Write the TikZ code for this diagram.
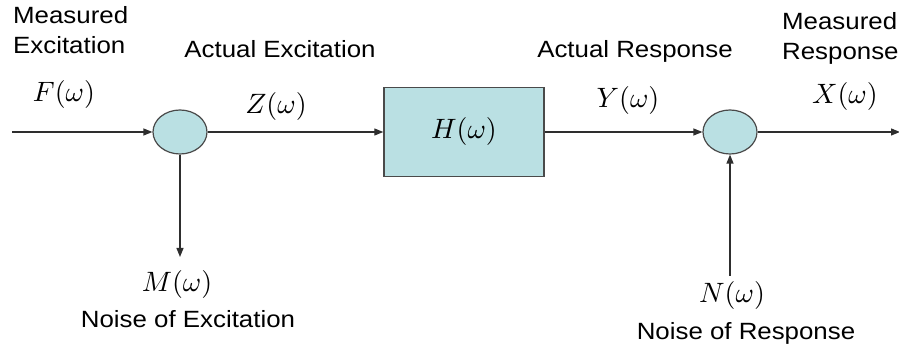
\documentclass[tikz,border=0pt]{standalone}
\usepackage[no-math]{fontspec}
\newfontfamily\labelfont{Liberation Sans}[FakeStretch=1.1]
\DeclareFontShape{OML}{cmm}{m}{it}{<->cmmi10}{}
\DeclareFontShape{OT1}{cmr}{m}{n}{<->cmr10}{}
\usepackage{tikz}
\usetikzlibrary{arrows.meta,shapes.geometric}
\definecolor{sumfill}{HTML}{BAE0E3}
\definecolor{edgegray}{HTML}{4A4A4A}
\definecolor{wiregray}{HTML}{2E2E2E}

\tikzset{
  sumnode/.style={ellipse, draw=edgegray, line width=1.2pt, fill=sumfill,
    minimum width=54pt, minimum height=44pt, inner sep=0pt},
  plantbox/.style={rectangle, draw=edgegray, line width=1.4pt, fill=sumfill,
    minimum width=160pt, minimum height=89pt},
  wire/.style={wiregray, line width=1.2pt},
  sig/.style={wire, -{Triangle[length=9pt,width=7pt]}},
  lbl/.style={font=\labelfont\fontsize{23.5}{30}\selectfont, inner sep=0pt},
  mlbl/.style={font=\fontsize{28}{32}\selectfont, inner sep=0pt},
}

\begin{document}
\begin{tikzpicture}[x=1pt,y=-1pt]
    \useasboundingbox (0,0) rectangle (899,352);

    % Bloecke
    \node[sumnode] (sumin) at (180,132) {};
    \node[plantbox, font=\fontsize{28}{32}\selectfont] (plant) at (464,132) {$H(\omega)$};
    \node[sumnode] (sumout) at (730,132) {};

    % Freie Enden
    \coordinate (fin) at (12,132);
    \coordinate (xout) at (900,132);
    \coordinate (mout) at (180,257);
    \coordinate (nin) at (730,276);

    % Signalpfade
    \draw[sig] (fin) -- (sumin.west);
    \draw[sig] (sumin.east) -- (plant.west);
    \draw[sig] (plant.east) -- (sumout.west);
    \draw[sig] (sumout.east) -- (xout);
    \draw[sig] (sumin.south) -- (mout);
    \draw[sig] (nin) -- (sumout.south);

    % Beschriftungen
    \node[lbl, anchor=base west, align=left] (measexc) at (13,54) {Measured\\Excitation};
    \node[lbl, anchor=base] (actexc) at (280,58) {Actual Excitation};
    \node[lbl, anchor=base] (actres) at (635,58) {Actual Response};
    \node[lbl, anchor=base west, align=left] (measres) at (782,60) {Measured\\Response};
    \node[lbl, anchor=base] (noiseexc) at (188,327) {Noise of Excitation};
    \node[lbl, anchor=base] (noiseres) at (746,339) {Noise of Response};

    % Signale
    \node[mlbl] (F) at (64,95) {$F(\omega)$};
    \node[mlbl] (Z) at (276,107) {$Z(\omega)$};
    \node[mlbl] (Y) at (628,101) {$Y(\omega)$};
    \node[mlbl] (X) at (845,97) {$X(\omega)$};
    \node[mlbl] (M) at (177,285) {$M(\omega)$};
    \node[mlbl] (N) at (732,296) {$N(\omega)$};
\end{tikzpicture}
\end{document}
